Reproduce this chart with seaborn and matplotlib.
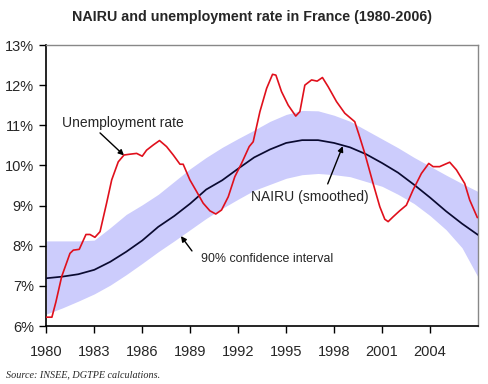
import matplotlib
matplotlib.use("Agg")
import matplotlib.pyplot as plt
import seaborn as sns
import pandas as pd

# ---- data ----
unemp_years = [1980.0, 1980.35, 1980.6, 1980.96, 1981.48, 1981.69, 1982.06, 1982.48, 1982.73, 1983.04,
               1983.36, 1983.77, 1984.09, 1984.5, 1984.86, 1985.23, 1985.65, 1986.0, 1986.27, 1986.69,
               1987.08, 1987.52, 1987.94, 1988.36, 1988.56, 1988.98, 1989.4, 1989.81, 1990.23, 1990.6,
               1990.96, 1991.38, 1991.79, 1992.21, 1992.69, 1992.94, 1993.36, 1993.78, 1994.15, 1994.36,
               1994.71, 1995.13, 1995.6, 1995.86, 1996.17, 1996.59, 1996.94, 1997.27, 1997.63, 1998.15,
               1998.67, 1999.29, 1999.56, 1999.92, 2000.44, 2000.86, 2001.17, 2001.38, 2001.69, 2002.1,
               2002.52, 2002.94, 2003.46, 2003.92, 2004.19, 2004.6, 2005.23, 2005.65, 2006.17, 2006.48,
               2006.96]
unemp_rate = [6.22, 6.22, 6.6, 7.23, 7.81, 7.89, 7.91, 8.28, 8.28, 8.21,
              8.35, 9.06, 9.64, 10.09, 10.26, 10.28, 10.30, 10.23, 10.38, 10.51,
              10.62, 10.47, 10.26, 10.03, 10.03, 9.64, 9.35, 9.06, 8.87, 8.79,
              8.89, 9.22, 9.72, 10.05, 10.47, 10.59, 11.34, 11.92, 12.27, 12.25,
              11.84, 11.50, 11.23, 11.34, 12.00, 12.13, 12.10, 12.19, 11.96, 11.59,
              11.30, 11.09, 10.76, 10.30, 9.55, 8.97, 8.66, 8.60, 8.72, 8.87,
              9.01, 9.39, 9.80, 10.05, 9.97, 9.97, 10.08, 9.89, 9.55, 9.14,
              8.70]

nairu_years = list(range(1980, 2008))
nairu = [7.19, 7.23, 7.29, 7.40, 7.60, 7.85, 8.13, 8.47, 8.74, 9.05,
         9.40, 9.63, 9.92, 10.20, 10.40, 10.56, 10.63, 10.63, 10.56, 10.45,
         10.28, 10.06, 9.82, 9.52, 9.20, 8.86, 8.55, 8.27]
ci_upper = [8.12, 8.12, 8.12, 8.14, 8.45, 8.78, 9.02, 9.28, 9.60, 9.92,
            10.20, 10.45, 10.67, 10.88, 11.10, 11.27, 11.37, 11.36, 11.25, 11.10,
            10.88, 10.66, 10.44, 10.20, 9.98, 9.76, 9.55, 9.35]
ci_lower = [6.30, 6.45, 6.62, 6.80, 7.02, 7.28, 7.56, 7.85, 8.12, 8.40,
            8.68, 8.93, 9.16, 9.38, 9.53, 9.68, 9.77, 9.80, 9.77, 9.72,
            9.60, 9.48, 9.28, 9.05, 8.75, 8.40, 7.95, 7.22]

x_ticks = [1980, 1983, 1986, 1989, 1992, 1995, 1998, 2001, 2004]
y_ticks = [6, 7, 8, 9, 10, 11, 12, 13]

title = "NAIRU and unemployment rate in France (1980-2006)"
source = "Source: INSEE, DGTPE calculations."

# ---- plot ----
sns.set_style("white")
plt.rcParams['font.family'] = ['Liberation Sans', 'DejaVu Sans']

fig = plt.figure(figsize=(4.88, 3.84), dpi=100)
ax = fig.add_axes([0.0949, 0.151, 0.8846, 0.7318])

df_u = pd.DataFrame({"year": unemp_years, "rate": unemp_rate})
df_n = pd.DataFrame({"year": nairu_years, "nairu": nairu, "lo": ci_lower, "hi": ci_upper})

ax.fill_between(df_n["year"], df_n["lo"], df_n["hi"], color="#ccccfc", lw=0, zorder=1)
sns.lineplot(data=df_n, x="year", y="nairu", color="#0a0a30", lw=1.25, ax=ax,
             estimator=None, sort=False, zorder=3)
sns.lineplot(data=df_u, x="year", y="rate", color="#e0101c", lw=1.2, ax=ax,
             estimator=None, sort=False, zorder=4)

ax.set_xlim(1980, 2007)
ax.set_ylim(6, 13)
ax.set_xticks(x_ticks)
ax.set_xticklabels([str(t) for t in x_ticks], fontsize=10.5)
ax.set_yticks(y_ticks)
ax.set_yticklabels([f"{t}%" for t in y_ticks], fontsize=10.5)
ax.set_xlabel("")
ax.set_ylabel("")
ax.tick_params(axis="x", direction="out", length=5, width=1, color="black", pad=8.5)
ax.tick_params(axis="y", direction="out", length=5, width=1, color="black", pad=4)
ax.xaxis.set_ticks_position("bottom")
ax.yaxis.set_ticks_position("left")
ax.grid(False)
for s in ["left", "bottom"]:
    ax.spines[s].set_color("black")
    ax.spines[s].set_linewidth(1.2)
for s in ["top", "right"]:
    ax.spines[s].set_color("#888888")
    ax.spines[s].set_linewidth(1.0)

arrow = dict(arrowstyle="-|>", color="black", lw=1.0, mutation_scale=8, shrinkA=0, shrinkB=0)
ax.text(1984.79, 11.06, "Unemployment rate", ha="center", va="center", fontsize=10)
ax.annotate("", xy=(1984.86, 10.25), xytext=(1983.36, 10.81), arrowprops=arrow)
ax.text(1996.51, 9.21, "NAIRU (smoothed)", ha="center", va="center", fontsize=10)
ax.annotate("", xy=(1998.54, 10.48), xytext=(1997.6, 9.54), arrowprops=arrow)
ax.text(1993.79, 7.67, "90% confidence interval", ha="center", va="center", fontsize=8.9)
ax.annotate("", xy=(1988.42, 8.24), xytext=(1989.11, 7.87), arrowprops=arrow)

fig.text(0.516, 1 - 17 / 384, title, ha="center", va="center", fontsize=10.3, fontweight="bold")
fig.text(6 / 488, 1 - 375 / 384, source, ha="left", va="center", fontsize=7.3,
         style="italic", family=["Liberation Serif", "DejaVu Serif"])

fig.savefig("out.png", dpi=100)
